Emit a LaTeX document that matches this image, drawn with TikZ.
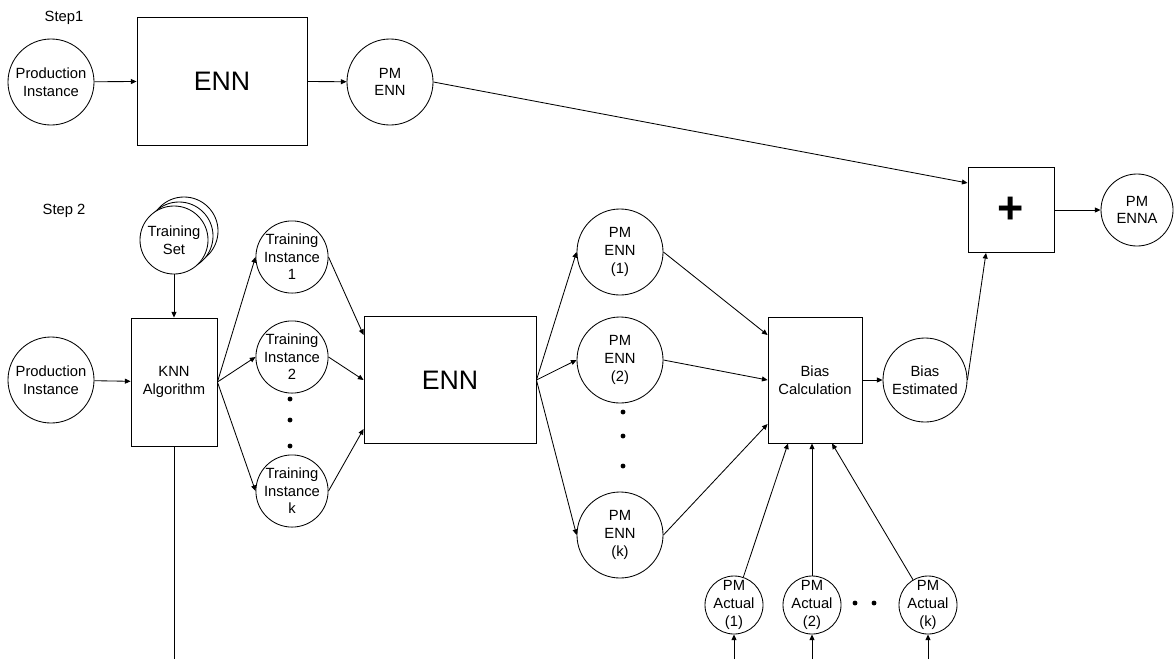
\documentclass[tikz,border=0pt]{standalone}
\usepackage{fontspec}
\setmainfont{Liberation Sans}
\usetikzlibrary{arrows.meta, calc}
\tikzset{
  base/.style={draw, line width=0.6pt, align=center,
               font=\fontsize{10.5}{12.5}\selectfont, inner sep=0pt},
  bigcirc/.style  = {base, circle, minimum size=2.15cm},
  instcirc/.style = {base, circle, minimum size=1.8cm},
  actcirc/.style  = {base, circle, minimum size=1.45cm, inner sep=-2pt},
  block/.style    = {base, rectangle},
  arr/.style      = {-{Triangle[length=4pt, width=3.5pt]}, line width=0.6pt},
  steplabel/.style= {font=\fontsize{10.5}{12.5}\selectfont},
  bullet/.style   = {circle, fill, inner sep=0pt, minimum size=3.5pt},
}

\begin{document}
\begin{tikzpicture}[x=0.025cm, y=-0.025cm]
  \useasboundingbox (0,0) rectangle (1176,659);
  \coordinate (bottom) at (0,659);

  % Step 1
  \node[steplabel] (s1) at (64,18) {Step1};
  \node[bigcirc] (pitop) at (51,82) {Production\\Instance};
  \node[block, minimum width=4.25cm, minimum height=3.2cm,
        font=\fontsize{19}{22}\selectfont] (enntop) at (222,81) {ENN};
  \node[bigcirc] (pmtop) at (390,82) {PM\\ENN};
  \node[block, minimum width=2.15cm, minimum height=2.125cm,
        font=\fontsize{32}{34}\selectfont\bfseries] (plus) at (1011,210) {+};
  \node[instcirc] (pmenna) at (1137,210) {PM\\ENNA};

  % Step 2
  \node[steplabel] (s2) at (64,211) {Step 2};
  \node[instcirc, minimum size=1.7cm, fill=white] (tsetc) at (184,231) {};
  \node[instcirc, minimum size=1.7cm, fill=white] (tsetb) at (179,236) {};
  \node[instcirc, minimum size=1.7cm, fill=white] (tset) at (174,240) {Training\\Set};
  \node[bigcirc] (pi2) at (51,380) {Production\\Instance};
  \node[block, minimum width=2.15cm, minimum height=3.2cm] (knn) at (174,382) {KNN\\Algorithm};

  \node[instcirc] (ti1) at (292,257) {Training\\Instance\\1};
  \node[instcirc] (ti2) at (292,357) {Training\\Instance\\2};
  \node[instcirc] (tik) at (292,491) {Training\\Instance\\k};
  \node[bullet] (td1) at (290,399) {};
  \node[bullet] (td2) at (290,420) {};
  \node[bullet] (td3) at (290,446) {};

  \node[block, minimum width=4.3cm, minimum height=3.175cm,
        font=\fontsize{19}{22}\selectfont] (enn2) at (450,380) {ENN};

  \node[bigcirc] (pe1) at (620,252) {PM\\ENN\\(1)};
  \node[bigcirc] (pe2) at (620,360) {PM\\ENN\\(2)};
  \node[bigcirc] (pek) at (620,535) {PM\\ENN\\(k)};
  \node[bullet] (pd1) at (623,412) {};
  \node[bullet] (pd2) at (623,436) {};
  \node[bullet] (pd3) at (623,466) {};

  \node[block, minimum width=2.35cm, minimum height=3.15cm] (bias) at (815,380) {Bias\\Calculation};
  \node[bigcirc, minimum size=2.1cm] (best) at (925,380) {Bias\\Estimated};

  \node[actcirc] (pa1) at (734,605) {PM\\Actual\\(1)};
  \node[actcirc] (pa2) at (812,605) {PM\\Actual\\(2)};
  \node[actcirc] (pak) at (928,605) {PM\\Actual\\(k)};
  \node[bullet] (ad1) at (855,603) {};
  \node[bullet] (ad2) at (874,603) {};

  % Connectors, step 1
  \draw[arr] (pitop) -- (enntop);
  \draw[arr] (enntop) -- (pmtop);
  \draw[arr] (pmtop.east) -- ([yshift=0.675cm]plus.west);
  \draw[arr] (plus) -- (pmenna);
  \draw[arr] (best.east) -- ([xshift=-0.625cm]plus.south);

  % Connectors, step 2
  \draw[arr] (tset) -- (knn);
  \draw[arr] (pi2) -- (knn);
  \draw (knn.south) -- (knn.south |- bottom);
  \draw[arr] (knn.east) -- (ti1.west);
  \draw[arr] (knn.east) -- (ti2.west);
  \draw[arr] (knn.east) -- (tik.west);
  \draw[arr] (ti1.east) -- ([yshift=1.125cm]enn2.west);
  \draw[arr] (ti2.east) -- (enn2.west);
  \draw[arr] (tik.east) -- ([yshift=-1.225cm]enn2.west);
  \draw[arr] (enn2.east) -- (pe1.west);
  \draw[arr] (enn2.east) -- (pe2.west);
  \draw[arr] (enn2.east) -- (pek.west);
  \draw[arr] (pe1.east) -- ([yshift=1.125cm]bias.west);
  \draw[arr] (pe2.east) -- (bias.west);
  \draw[arr] (pek.east) -- ([yshift=-1.1cm]bias.west);
  \draw[arr] (bias) -- (best);
  \draw[arr] (pa1) -- ([xshift=-0.675cm]bias.south);
  \draw[arr] (pa2) -- (pa2 |- bias.south);
  \draw[arr] (pak) -- ([xshift=0.425cm]bias.south);
  \draw[arr] (pa1.south |- bottom) -- (pa1.south);
  \draw[arr] (pa2.south |- bottom) -- (pa2.south);
  \draw[arr] (pak.south |- bottom) -- (pak.south);
\end{tikzpicture}
\end{document}
